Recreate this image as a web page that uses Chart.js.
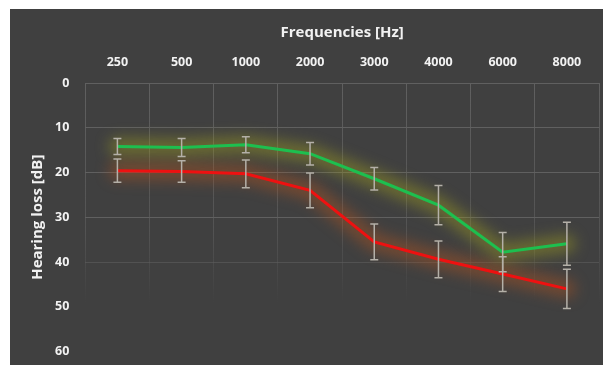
<!DOCTYPE html>
<html>
<head>
<meta charset="utf-8">
<script src="https://cdn.jsdelivr.net/npm/chart.js@4.4.0/dist/chart.umd.min.js"></script>
<style>
  html, body { margin: 0; padding: 0; background: #fff; }
  #panel { position: absolute; left: 10px; top: 9px; width: 593px; height: 356px; background: #404040; overflow: hidden; }
</style>
</head>
<body>
<div id="panel"><canvas id="hearingChart" width="593" height="366"></canvas></div>
<script>
// frequencies along the top axis
var frequencies = ['250', '500', '1000', '2000', '3000', '4000', '6000', '8000'];

// mean hearing loss (dB) per group
var greenLoss = [14.2, 14.4, 13.8, 15.8, 21.4, 27.3, 37.8, 35.9];
var redLoss   = [19.6, 19.8, 20.3, 24.0, 35.5, 39.4, 42.7, 46.0];

// +/- spread drawn as error bars
var greenErr = [1.8, 2.0, 1.8, 2.5, 2.5, 4.4, 4.4, 4.8];
var redErr   = [2.6, 2.4, 3.1, 3.9, 4.0, 4.1, 3.9, 4.4];

var yTicks = [0, 10, 20, 30, 40, 50, 60];

var labelColor = '#f2f2f2';
var gridColor = '#606060';

// soft halo round each line: a wide blurred stroke through the points the library placed
var glowPlugin = {
    id: 'glow',
    beforeDatasetDraw: function (chart, args) {
        var ds = chart.data.datasets[args.index],
            pts = args.meta.data,
            ctx = chart.ctx;
        ctx.save();
        ctx.filter = 'blur(7px)';
        ctx.strokeStyle = ds.glowColor;
        ctx.lineWidth = 18;
        ctx.lineJoin = 'round';
        ctx.lineCap = 'round';
        ctx.beginPath();
        pts.forEach(function (p, i) {
            if (i === 0) ctx.moveTo(p.x, p.y); else ctx.lineTo(p.x, p.y);
        });
        ctx.stroke();
        ctx.restore();
    }
};

// error bars, placed through the chart's own scales
var errorBarPlugin = {
    id: 'errorBars',
    afterDatasetsDraw: function (chart) {
        var ctx = chart.ctx,
            x = chart.scales.x,
            y = chart.scales.y;
        ctx.save();
        ctx.strokeStyle = '#b4b0a8';
        ctx.lineWidth = 1.5;
        chart.data.datasets.forEach(function (ds) {
            ds.data.forEach(function (v, i) {
                var px = x.getPixelForValue(i),
                    top = y.getPixelForValue(v - ds.errors[i]),
                    bottom = y.getPixelForValue(v + ds.errors[i]);
                ctx.beginPath();
                ctx.moveTo(px, top);
                ctx.lineTo(px, bottom);
                ctx.moveTo(px - 4, top);
                ctx.lineTo(px + 4, top);
                ctx.moveTo(px - 4, bottom);
                ctx.lineTo(px + 4, bottom);
                ctx.stroke();
            });
        });
        ctx.restore();
    }
};

var chart = new Chart(document.getElementById('hearingChart'), {
    type: 'line',
    data: {
        labels: frequencies,
        datasets: [
            {
                label: 'Group A',
                data: greenLoss,
                errors: greenErr,
                borderColor: '#1dbf4f',
                glowColor: 'rgba(160, 160, 30, 0.45)',
                borderWidth: 3,
                pointRadius: 0,
                tension: 0
            },
            {
                label: 'Group B',
                data: redLoss,
                errors: redErr,
                borderColor: '#ee1111',
                glowColor: 'rgba(180, 85, 30, 0.45)',
                borderWidth: 3,
                pointRadius: 0,
                tension: 0
            }
        ]
    },
    options: {
        responsive: false,
        animation: false,
        layout: { padding: { top: 15, right: 4, bottom: 0, left: 19 } },
        plugins: {
            legend: { display: false },
            tooltip: { enabled: false }
        },
        scales: {
            x: {
                position: 'top',
                offset: true,
                title: {
                    display: true,
                    text: 'Frequencies [Hz]',
                    color: labelColor,
                    font: { family: 'Open Sans', size: 15, weight: 'bold' },
                    padding: { top: 0, bottom: 0 }
                },
                ticks: {
                    color: labelColor,
                    font: { family: 'Open Sans', size: 12.5, weight: 'bold' },
                    padding: 13
                },
                grid: {
                    offset: true,
                    drawTicks: false,
                    lineWidth: 1,
                    color: function (c) {
                        var area = c.chart.chartArea;
                        if (!area) return gridColor;
                        var g = c.chart.ctx.createLinearGradient(0, area.top, 0, area.bottom);
                        g.addColorStop(0, gridColor);
                        g.addColorStop(0.55, 'rgba(96,96,96,0.6)');
                        g.addColorStop(0.82, 'rgba(96,96,96,0)');
                        g.addColorStop(1, 'rgba(96,96,96,0)');
                        return g;
                    }
                },
                border: { display: true, color: gridColor }
            },
            y: {
                reverse: true,
                min: yTicks[0],
                max: yTicks[yTicks.length - 1],
                afterBuildTicks: function (scale) {
                    scale.ticks = yTicks.map(function (v) { return { value: v }; });
                },
                title: {
                    display: true,
                    text: 'Hearing loss [dB]',
                    color: labelColor,
                    font: { family: 'Open Sans', size: 15, weight: 'bold' },
                    padding: { top: 0, bottom: -8 }
                },
                ticks: {
                    color: labelColor,
                    font: { family: 'Open Sans', size: 12.5, weight: 'bold' },
                    padding: 16
                },
                grid: {
                    drawTicks: false,
                    color: function (c) {
                        var v = c.tick ? c.tick.value : 0;
                        if (v <= 30) return gridColor;
                        if (v === 40) return 'rgba(96,96,96,0.55)';
                        return 'rgba(0,0,0,0)';
                    }
                },
                border: { display: false }
            }
        }
    },
    plugins: [glowPlugin, errorBarPlugin]
});
</script>
</body>
</html>
